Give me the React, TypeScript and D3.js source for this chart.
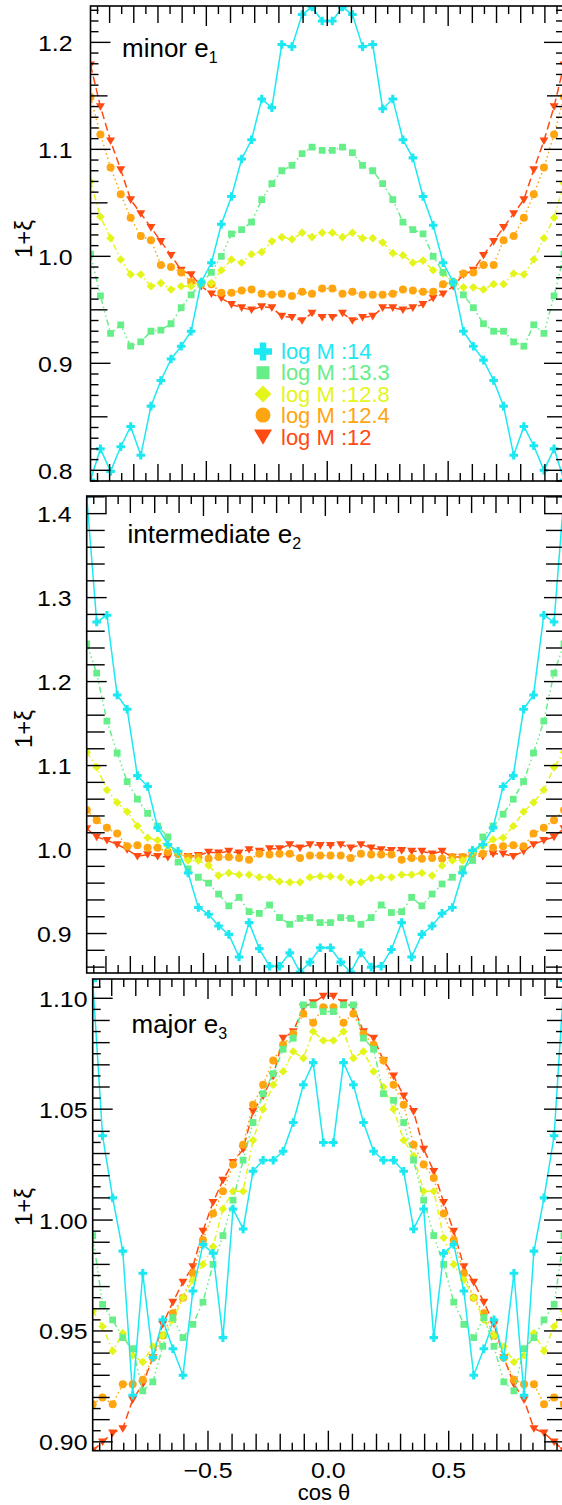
import React from 'react';
import * as d3 from 'd3';

// ---------- data ----------
const cosTheta = [
  -0.979, -0.938, -0.896, -0.854, -0.813, -0.771, -0.729, -0.688, -0.646, -0.604, -0.563, -0.521,
  -0.479, -0.438, -0.396, -0.354, -0.313, -0.271, -0.229, -0.188, -0.146, -0.104, -0.063, -0.021,
  0.021, 0.063, 0.104, 0.146, 0.188, 0.229, 0.271, 0.313, 0.354, 0.396, 0.438, 0.479,
  0.521, 0.563, 0.604, 0.646, 0.688, 0.729, 0.771, 0.813, 0.854, 0.896, 0.938, 0.979,
];

const massLabels = ['log M :14', 'log M :13.3', 'log M :12.8', 'log M :12.4', 'log M :12'];

// minor axis e1
const minorM14 = [
  0.791, 0.820, 0.799, 0.822, 0.841, 0.814, 0.860, 0.884, 0.904, 0.916, 0.930, 0.976,
  0.994, 1.030, 1.056, 1.091, 1.109, 1.147, 1.139, 1.198, 1.196, 1.226, 1.233, 1.220,
  1.220, 1.233, 1.226, 1.196, 1.198, 1.138, 1.147, 1.109, 1.092, 1.056, 1.029, 0.994,
  0.976, 0.930, 0.916, 0.903, 0.884, 0.860, 0.814, 0.841, 0.823, 0.800, 0.820, 0.791,
];
const minorM133 = [
  1.002, 0.963, 0.928, 0.936, 0.916, 0.920, 0.930, 0.931, 0.937, 0.952, 0.964, 0.975,
  0.985, 1.000, 1.021, 1.025, 1.032, 1.053, 1.068, 1.080, 1.085, 1.096, 1.102, 1.099,
  1.099, 1.102, 1.097, 1.085, 1.080, 1.068, 1.053, 1.032, 1.025, 1.021, 1.000, 0.985,
  0.975, 0.964, 0.952, 0.937, 0.930, 0.930, 0.920, 0.916, 0.936, 0.928, 0.963, 1.002,
];
const minorM128 = [
  1.070, 1.037, 1.017, 0.997, 0.983, 0.983, 0.972, 0.975, 0.969, 0.972, 0.972, 0.976,
  0.975, 0.987, 0.997, 0.994, 1.002, 1.004, 1.014, 1.018, 1.016, 1.022, 1.018, 1.022,
  1.022, 1.018, 1.022, 1.017, 1.017, 1.013, 1.003, 1.001, 0.994, 0.996, 0.987, 0.984,
  0.976, 0.971, 0.971, 0.969, 0.974, 0.974, 0.984, 0.983, 0.997, 1.017, 1.036, 1.068,
];
const minorM124 = [
  1.149, 1.114, 1.083, 1.058, 1.036, 1.019, 1.015, 0.992, 0.990, 0.985, 0.976, 0.974,
  0.974, 0.966, 0.966, 0.968, 0.969, 0.965, 0.964, 0.965, 0.963, 0.967, 0.965, 0.970,
  0.970, 0.965, 0.967, 0.964, 0.964, 0.964, 0.965, 0.969, 0.968, 0.967, 0.967, 0.974,
  0.976, 0.984, 0.985, 0.992, 0.992, 1.015, 1.019, 1.036, 1.058, 1.083, 1.114, 1.149,
];
const minorM12 = [
  1.179, 1.140, 1.108, 1.081, 1.053, 1.040, 1.027, 1.014, 1.001, 0.987, 0.983, 0.972,
  0.965, 0.961, 0.955, 0.952, 0.950, 0.953, 0.952, 0.944, 0.943, 0.940, 0.947, 0.943,
  0.943, 0.947, 0.940, 0.943, 0.944, 0.952, 0.952, 0.950, 0.952, 0.955, 0.961, 0.965,
  0.972, 0.983, 0.987, 1.001, 1.014, 1.027, 1.040, 1.053, 1.081, 1.108, 1.140, 1.179,
];

// intermediate axis e2
const interM14 = [
  1.421, 1.271, 1.279, 1.184, 1.167, 1.088, 1.075, 1.026, 1.006, 0.998, 0.972, 0.931,
  0.923, 0.909, 0.899, 0.872, 0.913, 0.882, 0.861, 0.861, 0.877, 0.854, 0.866, 0.883,
  0.883, 0.866, 0.854, 0.877, 0.860, 0.861, 0.881, 0.913, 0.872, 0.899, 0.909, 0.924,
  0.931, 0.972, 0.999, 1.006, 1.026, 1.075, 1.088, 1.167, 1.184, 1.279, 1.271, 1.421,
];
const interM133 = [
  1.245, 1.210, 1.153, 1.115, 1.081, 1.060, 1.043, 1.028, 1.015, 0.985, 0.977, 0.967,
  0.960, 0.947, 0.933, 0.943, 0.926, 0.924, 0.934, 0.919, 0.911, 0.918, 0.919, 0.913,
  0.913, 0.919, 0.918, 0.911, 0.919, 0.934, 0.925, 0.926, 0.943, 0.933, 0.947, 0.959,
  0.967, 0.977, 0.987, 1.015, 1.028, 1.042, 1.060, 1.081, 1.115, 1.153, 1.210, 1.245,
];
const interM128 = [
  1.116, 1.098, 1.071, 1.056, 1.045, 1.028, 1.014, 1.011, 1.004, 0.997, 0.987, 0.987,
  0.981, 0.969, 0.972, 0.970, 0.970, 0.967, 0.967, 0.962, 0.961, 0.961, 0.967, 0.968,
  0.968, 0.967, 0.961, 0.961, 0.966, 0.967, 0.967, 0.970, 0.970, 0.972, 0.969, 0.981,
  0.987, 0.987, 0.997, 1.004, 1.012, 1.014, 1.028, 1.045, 1.056, 1.071, 1.098, 1.116,
];
const interM124 = [
  1.047, 1.035, 1.026, 1.019, 1.004, 1.005, 1.002, 1.002, 0.997, 0.995, 0.991, 0.991,
  0.989, 0.991, 0.991, 0.990, 0.988, 0.995, 0.994, 0.995, 0.995, 0.990, 0.993, 0.993,
  0.993, 0.993, 0.990, 0.995, 0.994, 0.994, 0.994, 0.988, 0.990, 0.989, 0.990, 0.989,
  0.991, 0.991, 0.995, 0.995, 1.002, 1.004, 1.005, 1.004, 1.019, 1.026, 1.035, 1.047,
];
const interM12 = [
  1.025, 1.015, 1.011, 1.006, 1.000, 0.992, 0.994, 0.992, 0.991, 0.994, 0.992, 0.993,
  0.997, 0.996, 0.998, 0.996, 1.000, 0.998, 1.001, 1.001, 1.006, 1.002, 1.006, 1.005,
  1.005, 1.006, 1.002, 1.006, 1.002, 1.000, 0.999, 0.999, 0.998, 0.998, 0.995, 0.998,
  0.991, 0.991, 0.993, 0.992, 0.995, 0.995, 0.992, 0.998, 1.006, 1.011, 1.015, 1.025,
];

// major axis e3
const majorM14 = [
  1.108, 1.038, 1.010, 0.986, 0.921, 0.976, 0.938, 0.955, 0.942, 0.930, 0.968, 0.989,
  0.985, 0.947, 1.005, 0.996, 1.022, 1.027, 1.027, 1.031, 1.044, 1.061, 1.071, 1.035,
  1.035, 1.071, 1.061, 1.044, 1.031, 1.027, 1.027, 1.022, 0.996, 1.005, 0.947, 0.985,
  0.989, 0.968, 0.930, 0.942, 0.955, 0.938, 0.976, 0.921, 0.986, 1.010, 1.038, 1.108,
];
const majorM133 = [
  0.993, 0.962, 0.955, 0.947, 0.942, 0.923, 0.927, 0.943, 0.956, 0.947, 0.953, 0.963,
  0.980, 0.993, 1.009, 1.027, 1.044, 1.057, 1.066, 1.077, 1.082, 1.097, 1.097, 1.094,
  1.094, 1.097, 1.097, 1.082, 1.077, 1.057, 1.054, 1.044, 1.027, 1.009, 0.993, 0.980,
  0.963, 0.953, 0.947, 0.956, 0.943, 0.927, 0.923, 0.942, 0.947, 0.955, 0.962, 0.993,
];
const majorM128 = [
  0.959, 0.952, 0.941, 0.949, 0.939, 0.936, 0.943, 0.948, 0.955, 0.965, 0.973, 0.980,
  0.988, 1.005, 1.013, 1.013, 1.036, 1.050, 1.061, 1.067, 1.076, 1.073, 1.085, 1.081,
  1.081, 1.085, 1.073, 1.076, 1.067, 1.060, 1.050, 1.036, 1.029, 1.013, 1.013, 0.992,
  0.980, 0.973, 0.965, 0.955, 0.948, 0.943, 0.936, 0.939, 0.949, 0.941, 0.952, 0.959,
];
const majorM124 = [
  0.917, 0.920, 0.917, 0.926, 0.926, 0.928, 0.938, 0.948, 0.958, 0.965, 0.976, 0.991,
  1.003, 1.013, 1.025, 1.034, 1.052, 1.061, 1.072, 1.079, 1.084, 1.093, 1.089, 1.096,
  1.096, 1.089, 1.093, 1.084, 1.079, 1.072, 1.061, 1.052, 1.034, 1.025, 1.019, 1.003,
  0.991, 0.976, 0.965, 0.958, 0.948, 0.938, 0.928, 0.926, 0.926, 0.917, 0.920, 0.917,
];
const majorM12 = [
  0.896, 0.900, 0.904, 0.906, 0.919, 0.926, 0.938, 0.953, 0.963, 0.972, 0.979, 0.995,
  1.008, 1.018, 1.026, 1.032, 1.049, 1.056, 1.065, 1.082, 1.085, 1.096, 1.098, 1.101,
  1.101, 1.098, 1.096, 1.085, 1.082, 1.072, 1.065, 1.056, 1.049, 1.032, 1.022, 1.008,
  0.995, 0.979, 0.972, 0.963, 0.953, 0.938, 0.926, 0.919, 0.906, 0.904, 0.900, 0.896,
];

const minorYTicks = [0.8, 0.9, 1.0, 1.1, 1.2];
const interYTicks = [0.9, 1.0, 1.1, 1.2, 1.3, 1.4];
const majorYTicks = [0.9, 0.95, 1.0, 1.05, 1.1];
const xTickLabels = [-0.5, 0.0, 0.5];

// ---------- styles ----------
const COLORS = ['#1CE8F2', '#66EE88', '#E4F51C', '#FFA510', '#FF4B12'];
const MARKERS = ['plus', 'square', 'diamond', 'circle', 'tri'];
const DASHES = [null, '6,3,1.5,3,1.5,3,1.5,3', '6,3,1.5,3', '1.5,3', '8,4'];
const FONT = "'Liberation Sans', Arial, Helvetica, sans-serif";

function markerPath(kind: string, s: number): string {
  switch (kind) {
    case 'plus': {
      const a = s * 0.36;
      return `M${-a},${-s}H${a}V${-a}H${s}V${a}H${a}V${s}H${-a}V${a}H${-s}V${-a}H${-a}Z`;
    }
    case 'square':
      return `M${-s},${-s}H${s}V${s}H${-s}Z`;
    case 'diamond':
      return `M0,${-s}L${s},0L0,${s}L${-s},0Z`;
    case 'circle':
      return `M${-s},0A${s},${s} 0 1,0 ${s},0A${s},${s} 0 1,0 ${-s},0Z`;
    default:
      return `M${-s},${-s * 0.75}L${s},${-s * 0.75}L0,${s * 0.95}Z`;
  }
}
const PLOT_SIZE = [4.3, 3.4, 4.3, 4.0, 4.5];
const LEG_SIZE = [9, 6.5, 8.5, 7.5, 9];

type Panel = {
  series: number[][];
  yTicks: number[];
  yFmt: string;
  minorStep: number;
  midStep: number | null;
  yDomain: [number, number];
  left: number; right: number; top: number; bottom: number;
  labelRight: number;
  title: string; sub: string; titleX: number; titleY: number;
  yLabelY: number;
  showX: boolean;
  legend: boolean;
};

const isMult = (v: number, step: number) => Math.abs(v / step - Math.round(v / step)) < 1e-6;

function PanelView({ p, idx }: { p: Panel; idx: number }) {
  const x = d3.scaleLinear().domain([cosTheta[0], cosTheta[cosTheta.length - 1]]).range([p.left, p.right]);
  const y = d3.scaleLinear().domain(p.yDomain).range([p.bottom, p.top]);
  const line = d3.line<number>().x((_, i) => x(cosTheta[i])).y((d) => y(d));
  const fmt = d3.format(p.yFmt);
  const majorStep = p.yTicks[1] - p.yTicks[0];

  // y tick positions
  const yMin = Math.ceil(p.yDomain[0] / p.minorStep - 1e-6);
  const yMax = Math.floor(p.yDomain[1] / p.minorStep + 1e-6);
  const yTickVals = d3.range(yMin, yMax + 1).map((i) => i * p.minorStep);
  const yLen = (v: number) => (isMult(v, majorStep) ? 20 : p.midStep && isMult(v, p.midStep) ? 17 : p.midStep ? 8 : 18);

  const xTickVals = d3.range(-19, 20).map((i) => i * 0.05);
  const xLen = (v: number) => (isMult(v, 0.5) ? 20 : isMult(v, 0.1) ? 17 : 8);

  const order = [4, 3, 2, 1, 0];
  const clipId = `clip${idx}`;
  return (
    <g>
      <defs>
        <clipPath id={clipId}>
          <rect x={p.left} y={p.top} width={p.right - p.left} height={p.bottom - p.top} />
        </clipPath>
      </defs>
      <g clipPath={`url(#${clipId})`}>
        {order.map((si) => (
          <g key={si}>
            <path
              d={line(p.series[si]) || ''}
              fill="none"
              stroke={COLORS[si]}
              strokeWidth={1.5}
              strokeDasharray={DASHES[si] || undefined}
            />
            {p.series[si].map((v, i) => (
              <path
                key={i}
                d={markerPath(MARKERS[si], PLOT_SIZE[si])}
                transform={`translate(${x(cosTheta[i])},${y(v)})`}
                fill={COLORS[si]}
              />
            ))}
          </g>
        ))}
      </g>
      {/* frame */}
      <rect x={p.left} y={p.top} width={p.right - p.left} height={p.bottom - p.top} fill="none" stroke="#000" strokeWidth={1.6} />
      {/* x ticks top & bottom */}
      {xTickVals.map((v, i) => {
        const px = x(v);
        const L = xLen(v);
        return (
          <g key={`xt${i}`} stroke="#000" strokeWidth={1.4}>
            <line x1={px} x2={px} y1={p.top} y2={p.top + L} />
            <line x1={px} x2={px} y1={p.bottom} y2={p.bottom - L} />
          </g>
        );
      })}
      {/* y ticks left & right */}
      {yTickVals.map((v, i) => {
        const py = y(v);
        const L = yLen(v);
        return (
          <g key={`yt${i}`} stroke="#000" strokeWidth={1.4}>
            <line x1={p.left} x2={p.left + L} y1={py} y2={py} />
            <line x1={p.right} x2={p.right - L} y1={py} y2={py} />
          </g>
        );
      })}
      {/* y tick labels */}
      {p.yTicks.map((v, i) => (
        <text
          key={`yl${i}`}
          transform={`translate(${p.labelRight},${y(v) + 8.5}) scale(1.13,1)`}
          textAnchor="end"
          fontFamily={FONT}
          fontSize={22}
          fill="#000"
        >
          {fmt(v)}
        </text>
      ))}
      {/* x tick labels */}
      {p.showX &&
        xTickLabels.map((v, i) => (
          <text
            key={`xl${i}`}
            transform={`translate(${x(v)},${p.bottom + 27.5}) scale(1.13,1)`}
            textAnchor="middle"
            fontFamily={FONT}
            fontSize={22}
            fill="#000"
          >
            {d3.format('.1f')(v)}
          </text>
        ))}
      {/* y axis label */}
      <text
        transform={`translate(32,${p.yLabelY}) rotate(-90)`}
        textAnchor="middle"
        fontFamily={FONT}
        fontSize={24}
        fill="#000"
      >
        1+ξ
      </text>
      {/* panel title */}
      <text x={p.titleX} y={p.titleY} fontFamily={FONT} fontSize={26} fill="#000">
        {p.title}
        <tspan fontSize={16} dy={6}>
          {p.sub}
        </tspan>
      </text>
      {p.legend &&
        massLabels.map((lab, i) => (
          <g key={`lg${i}`}>
            <path
              d={markerPath(MARKERS[i], LEG_SIZE[i])}
              transform={`translate(263,${351.5 + i * 21.2})`}
              fill={COLORS[i]}
            />
            <text x={281} y={358.5 + i * 21.6} fontFamily={FONT} fontSize={22} fill={COLORS[i]}>
              {lab}
            </text>
          </g>
        ))}
    </g>
  );
}

export default function App() {
  const panels: Panel[] = [
    {
      series: [minorM14, minorM133, minorM128, minorM124, minorM12],
      yTicks: minorYTicks, yFmt: '.1f', minorStep: 0.01, midStep: 0.05,
      yDomain: [0.79, 1.234],
      left: 90.5, right: 564, top: 6, bottom: 481, labelRight: 72.5,
      title: 'minor e', sub: '1', titleX: 122, titleY: 57, yLabelY: 239,
      showX: false, legend: true,
    },
    {
      series: [interM14, interM133, interM128, interM124, interM12],
      yTicks: interYTicks, yFmt: '.1f', minorStep: 0.02, midStep: null,
      yDomain: [0.853, 1.421],
      left: 86.7, right: 564, top: 496, bottom: 973, labelRight: 71.5,
      title: 'intermediate e', sub: '2', titleX: 127.5, titleY: 543, yLabelY: 729,
      showX: false, legend: false,
    },
    {
      series: [majorM14, majorM133, majorM128, majorM124, majorM12],
      yTicks: majorYTicks, yFmt: '.2f', minorStep: 0.005, midStep: 0.01,
      yDomain: [0.896, 1.1087],
      left: 92.7, right: 564, top: 979, bottom: 1450.7, labelRight: 87.5,
      title: 'major e', sub: '3', titleX: 131.5, titleY: 1033, yLabelY: 1207,
      showX: true, legend: false,
    },
  ];
  return (
    <svg
      width={562}
      height={1505}
      style={{ position: 'absolute', left: 0, top: 0, background: '#fff' }}
    >
      <rect x={0} y={0} width={562} height={1505} fill="#fff" />
      {panels.map((p, i) => (
        <PanelView key={i} p={p} idx={i} />
      ))}
      <text x={324} y={1500} textAnchor="middle" fontFamily={FONT} fontSize={22} fill="#000">
        cos θ
      </text>
    </svg>
  );
}
